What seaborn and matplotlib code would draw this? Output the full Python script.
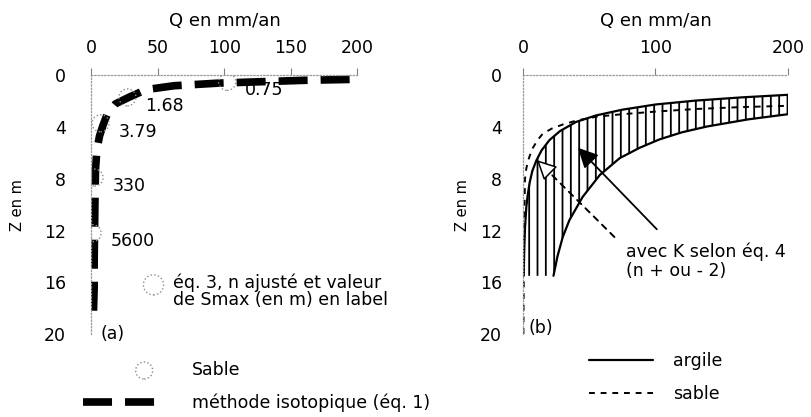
import numpy as np
import matplotlib
matplotlib.use("Agg")
import matplotlib.pyplot as plt
import pandas as pd
import seaborn as sns

# panel (a) : methode isotopique et points "Sable"
iso_q = [1.5, 2, 2, 2.3, 2.6, 3, 4, 6, 8.5, 12, 18, 29, 41, 62, 95, 130, 160, 200]
iso_z = [18.2, 16.4, 14.3, 12, 9.6, 7.3, 5.8, 4.7, 3.9, 2.95, 2.2, 1.65, 1.1, 0.8, 0.6, 0.48, 0.38, 0.3]
sable_q = [102, 27, 6.8, 2.3, 0.8]
sable_z = [0.5, 1.7, 3.7, 7.9, 12.2]
smax_labels = ["0.75", "1.68", "3.79", "330", "5600"]

# panel (b) : enveloppes avec K selon eq. 4 (n + ou - 2)
argile_q_haut = [0.5, 1.0, 1.5, 2.5, 3.5, 5, 7, 10, 14, 20, 28, 40, 55, 75, 100, 130, 165, 200]
argile_z_haut = [15.5, 13.3, 11.8, 10.2, 9.3, 8.3, 7.4, 6.6, 5.8, 5.0, 4.3, 3.6, 3.1, 2.65, 2.25, 1.95, 1.7, 1.5]
argile_q_bas = [23, 26, 30, 35, 45, 58, 73, 88, 103, 120, 139, 170, 200]
argile_z_bas = [15.5, 14.0, 12.5, 11.2, 9.4, 7.7, 6.4, 5.6, 4.95, 4.4, 3.95, 3.4, 3.0]
sable_q_b = [0.3, 0.6, 1.0, 1.5, 2.5, 3.8, 5.5, 7.5, 11, 15, 22, 30, 40, 55, 75, 100, 130, 165, 200]
sable_z_b = [20, 15.5, 11, 8.0, 7.2, 6.6, 6.1, 5.6, 5.0, 4.5, 4.1, 3.8, 3.5, 3.2, 3.0, 2.8, 2.6, 2.45, 2.35]

xticks_a = [0, 50, 100, 150, 200]
xticks_b = [0, 100, 200]
yticks = [0, 4, 8, 12, 16, 20]

sns.set_style("white")
plt.rcParams['font.family'] = ['DejaVu Sans']
plt.rcParams['hatch.linewidth'] = 1.3
plt.rcParams['text.color'] = 'black'
plt.rcParams['axes.labelcolor'] = 'black'
plt.rcParams['xtick.labelcolor'] = 'black'
plt.rcParams['ytick.labelcolor'] = 'black'

W, H = 812, 417
fig = plt.figure(figsize=(W / 100, H / 100), dpi=100)
bas, haut = 1 - 334 / H, (334 - 75.4) / H
ax1 = fig.add_axes([91.5 / W, bas, 266 / W, haut])
ax2 = fig.add_axes([523 / W, bas, 265 / W, haut])


def habille(ax, xt, ypad, ylab_x):
    ax.set_xlim(0, 200)
    ax.set_ylim(20, 0)
    ax.xaxis.tick_top()
    ax.xaxis.set_label_position('top')
    ax.set_xticks(xt)
    ax.set_yticks(yticks)
    for s in ['bottom', 'right']:
        ax.spines[s].set_visible(False)
    for s in ['top', 'left']:
        ax.spines[s].set_color('0.6')
        ax.spines[s].set_linestyle(':')
        ax.spines[s].set_linewidth(0.9)
    ax.tick_params(axis='both', direction='out', length=5, width=0.8, color='0.5',
                   labelsize=12.5, labelcolor='black')
    ax.tick_params(axis='x', pad=8.5)
    ax.tick_params(axis='y', pad=ypad)
    ax.set_xlabel('Q en mm/an', fontsize=13, labelpad=9)
    ax.set_ylabel('Z en m', fontsize=10.5)
    ax.yaxis.set_label_coords(ylab_x, 0.5)


habille(ax1, xticks_a, 13.5, -0.25)
habille(ax2, xticks_b, 10, -0.2)

# ---- (a)
df_iso = pd.DataFrame({'Q': iso_q, 'Z': iso_z})
sns.lineplot(data=df_iso, x='Q', y='Z', ax=ax1, sort=False, estimator=None,
             color='black', linewidth=5.5, linestyle=(0, (3.8, 1.7)))
iso_line = ax1.lines[-1]
sc = ax1.scatter(sable_q, sable_z, s=150, facecolors='none', edgecolors='0.55',
                 linewidths=1, linestyles=':', zorder=3)
for q, z, lab in zip(sable_q, sable_z, smax_labels):
    ax1.annotate(lab, (q, z), xytext=(13, -6), textcoords='offset points',
                 fontsize=12.5, va='center', ha='left')
ax1.scatter([46.6], [16.2], s=210, facecolors='none', edgecolors='0.55',
            linewidths=1, linestyles=':', clip_on=False)
ax1.text(61, 16.7, "éq. 3, n ajusté et valeur\nde Smax (en m) en label",
         fontsize=12.5, va='center', ha='left', linespacing=0.95)
ax1.text(6.8, 20, "(a)", fontsize=12.5, va='center', ha='left', clip_on=False)

leg_sable = ax1.legend(handles=[sc], labels=['Sable'],
                       loc='upper left', bbox_to_anchor=(132 / W, 1 - 361 / H),
                       bbox_transform=fig.transFigure, frameon=False, borderpad=0,
                       borderaxespad=0, handlelength=1.4, handletextpad=2.05,
                       fontsize=12.5, scatterpoints=1)
ax1.add_artist(leg_sable)
ax1.legend(handles=[iso_line], labels=['méthode isotopique (éq. 1)'],
           loc='upper left', bbox_to_anchor=(83 / W, 1 - 394 / H), bbox_transform=fig.transFigure,
           frameon=False, borderpad=0, borderaxespad=0, handlelength=4.25,
           handletextpad=2.05, fontsize=12.5)

# ---- (b)
poly_q = argile_q_haut + argile_q_bas[::-1]
poly_z = argile_z_haut + argile_z_bas[::-1]
ax2.fill(poly_q, poly_z, facecolor='none', edgecolor='black', hatch='||', linewidth=0)
df_h = pd.DataFrame({'Q': argile_q_haut, 'Z': argile_z_haut})
df_b = pd.DataFrame({'Q': argile_q_bas, 'Z': argile_z_bas})
df_s = pd.DataFrame({'Q': sable_q_b, 'Z': sable_z_b})
sns.lineplot(data=df_h, x='Q', y='Z', ax=ax2, sort=False, estimator=None, color='black', linewidth=1.6)
argile_line = ax2.lines[-1]
sns.lineplot(data=df_b, x='Q', y='Z', ax=ax2, sort=False, estimator=None, color='black', linewidth=1.6)
sns.lineplot(data=df_s, x='Q', y='Z', ax=ax2, sort=False, estimator=None, color='black',
             linewidth=1.4, linestyle=(0, (3, 3)))
sable_line = ax2.lines[-1]

ax2.annotate('', xy=(41.5, 5.6), xytext=(101, 11.9),
             arrowprops=dict(arrowstyle='-|>', mutation_scale=30, color='black', lw=1.3,
                             shrinkA=0, shrinkB=0))
ax2.annotate('', xy=(10.5, 6.55), xytext=(69, 12.5),
             arrowprops=dict(arrowstyle='-', color='black', lw=1.4, linestyle=(0, (3, 3)),
                             shrinkA=0, shrinkB=8))
ax2.annotate('', xy=(10.5, 6.55), xytext=(19, 7.4),
             arrowprops=dict(arrowstyle='-|>', mutation_scale=30, fc='white', ec='black', lw=1.1,
                             shrinkA=0, shrinkB=0))
ax2.text(77.7, 14.4, "avec K selon éq. 4\n(n + ou - 2)", fontsize=12.5, va='center', ha='left',
         linespacing=1.05)
ax2.text(3.8, 19.5, "(b)", fontsize=12.5, va='center', ha='left', clip_on=False)
ax2.legend(handles=[argile_line, sable_line], labels=['argile', 'sable'],
           loc='upper left', bbox_to_anchor=(589 / W, 1 - 352 / H), bbox_transform=fig.transFigure,
           frameon=False, borderpad=0, borderaxespad=0, handlelength=3.7,
           handletextpad=1.15, labelspacing=0.85, fontsize=12.5)

fig.savefig('out.png', dpi=100)
